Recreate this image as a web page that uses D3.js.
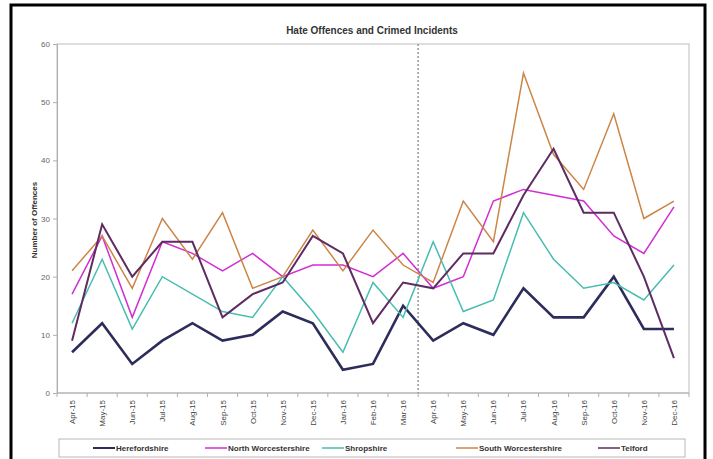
<!DOCTYPE html>
<html>
<head>
<meta charset="utf-8">
<script src="https://cdn.jsdelivr.net/npm/d3@7"></script>
<style>
  body { margin: 0; background: #fff; }
  svg text { font-family: "Liberation Sans", Arial, sans-serif; }
</style>
</head>
<body>
<svg id="chart" width="713" height="459"></svg>
<script>
const months = ["Apr-15","May-15","Jun-15","Jul-15","Aug-15","Sep-15","Oct-15","Nov-15","Dec-15","Jan-16","Feb-16","Mar-16",
                "Apr-16","May-16","Jun-16","Jul-16","Aug-16","Sep-16","Oct-16","Nov-16","Dec-16"];
const herefordshire = [7,12,5,9,12,9,10,14,12,4,5,15,9,12,10,18,13,13,20,11,11];
const northWorcs    = [17,27,13,26,24,21,24,20,22,22,20,24,18,20,33,35,34,33,27,24,32];
const shropshire    = [12,23,11,20,17,14,13,20,14,7,19,13,26,14,16,31,23,18,19,16,22];
const southWorcs    = [21,27,18,30,23,31,18,20,28,21,28,22,19,33,26,55,41,35,48,30,33];
const telford       = [9,29,20,26,26,13,17,19,27,24,12,19,18,24,24,34,42,31,31,20,6];
const yTicks = [0,10,20,30,40,50,60];

const series = [
  {name: "Herefordshire", values: herefordshire, color: "#2d2d5c", width: 2.6},
  {name: "North Worcestershire", values: northWorcs, color: "#d22ed2", width: 1.5},
  {name: "Shropshire", values: shropshire, color: "#47bdb0", width: 1.5},
  {name: "South Worcestershire", values: southWorcs, color: "#cc8548", width: 1.5},
  {name: "Telford", values: telford, color: "#5e2b62", width: 2}
];

const svg = d3.select("#chart");

// outer frame (bottom is cut off in the original)
svg.append("path")
  .attr("d", "M11,459 V5 H705 V459")
  .attr("fill", "none").attr("stroke", "#000").attr("stroke-width", 3);

const plotL = 57, plotR = 689, plotT = 44, plotB = 393;

const x = d3.scalePoint().domain(months).range([plotL, plotR]).padding(0.5);
const y = d3.scaleLinear().domain([0, 60]).range([plotB, plotT]);

// title
svg.append("text")
  .attr("x", 372).attr("y", 34)
  .attr("text-anchor", "middle")
  .attr("font-size", 10).attr("font-weight", "bold").attr("fill", "#333")
  .text("Hate Offences and Crimed Incidents");

// plot border
svg.append("rect")
  .attr("x", plotL).attr("y", plotT)
  .attr("width", plotR - plotL).attr("height", plotB - plotT)
  .attr("fill", "none").attr("stroke", "#c8c8c8").attr("stroke-width", 1.2);

// y axis
const yAxis = svg.append("g")
  .attr("transform", `translate(${plotL},0)`)
  .call(d3.axisLeft(y).tickValues(yTicks).tickSize(4).tickPadding(3));
yAxis.select(".domain").attr("stroke", "#b0b0b0");
yAxis.selectAll(".tick line").attr("stroke", "#b0b0b0");
yAxis.selectAll(".tick text").attr("font-size", 8).attr("fill", "#666")
  .style("font-family", "Liberation Sans, Arial, sans-serif");

svg.append("text")
  .attr("transform", "translate(37,220) rotate(-90)")
  .attr("text-anchor", "middle")
  .attr("font-size", 8).attr("font-weight", "bold").attr("fill", "#333")
  .text("Number of Offences");

// x axis: ticks at category boundaries
const step = x.step();
const xg = svg.append("g");
xg.append("line")
  .attr("x1", plotL).attr("x2", plotR).attr("y1", plotB).attr("y2", plotB)
  .attr("stroke", "#b0b0b0");
xg.selectAll("line.tk")
  .data(d3.range(months.length + 1))
  .join("line")
  .attr("class", "tk")
  .attr("x1", i => plotL + i * step).attr("x2", i => plotL + i * step)
  .attr("y1", plotB).attr("y2", plotB + 4)
  .attr("stroke", "#b0b0b0");
xg.selectAll("text")
  .data(months)
  .join("text")
  .attr("transform", d => `translate(${x(d) + 3},${plotB + 7}) rotate(-90)`)
  .attr("text-anchor", "end")
  .attr("font-size", 8).attr("fill", "#444")
  .text(d => d);

// dotted separator between Mar-16 and Apr-16
const sepX = (x("Mar-16") + x("Apr-16")) / 2;
svg.append("line")
  .attr("x1", sepX).attr("x2", sepX).attr("y1", plotT).attr("y2", plotB)
  .attr("stroke", "#999").attr("stroke-width", 1.5).attr("stroke-dasharray", "2,2");

// lines
const line = d3.line().x((d, i) => x(months[i])).y(d => y(d));
svg.selectAll("path.series")
  .data(series)
  .join("path")
  .attr("class", "series")
  .attr("d", d => line(d.values))
  .attr("fill", "none")
  .attr("stroke", d => d.color)
  .attr("stroke-width", d => d.width)
  .attr("stroke-linejoin", "miter");

// legend
const lg = svg.append("g");
lg.append("rect")
  .attr("x", 59).attr("y", 439).attr("width", 626).attr("height", 18)
  .attr("fill", "#fff").attr("stroke", "#b8b8b8");
const legendX = [93, 205, 322, 456, 598];
series.forEach((s, i) => {
  lg.append("line")
    .attr("x1", legendX[i]).attr("x2", legendX[i] + 22)
    .attr("y1", 448).attr("y2", 448)
    .attr("stroke", s.color).attr("stroke-width", s.width > 2 ? 2 : 1.5);
  lg.append("text")
    .attr("x", legendX[i] + 23).attr("y", 451)
    .attr("font-size", 8).attr("font-weight", "bold").attr("fill", "#333")
    .text(s.name);
});
</script>
</body>
</html>
